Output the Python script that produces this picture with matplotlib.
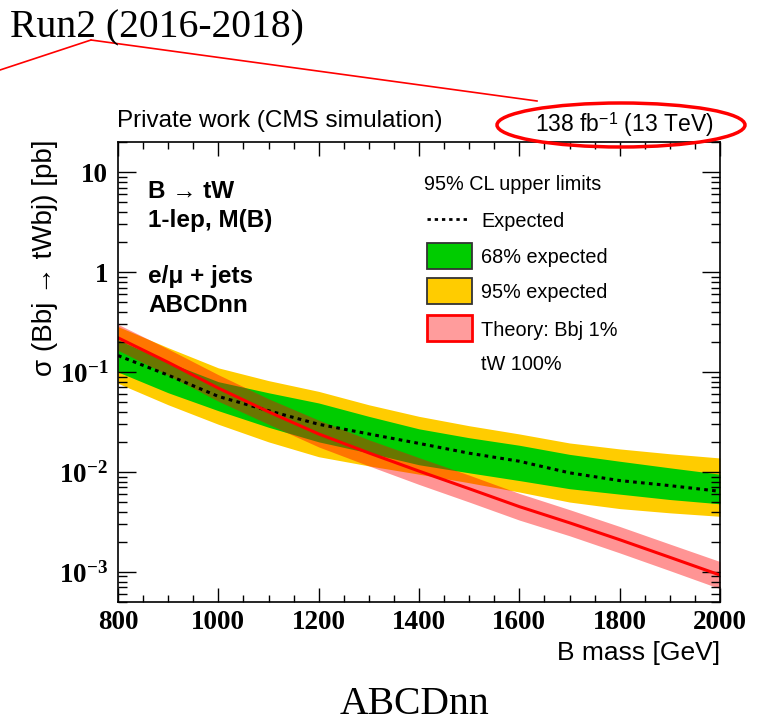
import numpy as np
import matplotlib
matplotlib.use("Agg")
import matplotlib.pyplot as plt
from matplotlib.patches import Rectangle, Ellipse
from matplotlib.lines import Line2D
from matplotlib.ticker import FixedLocator, LogLocator, NullFormatter

# B mass points [GeV]
mass = [800, 900, 1000, 1100, 1200, 1300, 1400, 1500, 1600, 1700, 1800, 1900, 2000]

# expected limit and bands [pb]
expected = [0.146, 0.093, 0.057, 0.041, 0.030, 0.024, 0.0193, 0.0154, 0.0128, 0.0098, 0.0082, 0.0073, 0.0064]
band68_lo = [0.100, 0.062, 0.041, 0.028, 0.020, 0.0155, 0.0118, 0.0098, 0.0082, 0.0068, 0.0060, 0.0053, 0.0048]
band68_hi = [0.210, 0.125, 0.080, 0.062, 0.049, 0.036, 0.027, 0.022, 0.0185, 0.0150, 0.0128, 0.0110, 0.0095]
band95_lo = [0.077, 0.047, 0.030, 0.020, 0.0142, 0.0115, 0.0095, 0.0078, 0.0063, 0.0050, 0.0043, 0.0039, 0.0036]
band95_hi = [0.285, 0.175, 0.110, 0.082, 0.064, 0.047, 0.036, 0.029, 0.024, 0.0195, 0.0170, 0.0152, 0.0138]

# theory cross section [pb]
theory = [0.22, 0.125, 0.069, 0.040, 0.024, 0.0155, 0.0102, 0.0068, 0.0045, 0.0031, 0.0021, 0.0014, 0.00093]
theory_lo = [0.165, 0.093, 0.051, 0.030, 0.0178, 0.0115, 0.0075, 0.0050, 0.0033, 0.0023, 0.00155, 0.00103, 0.00068]
theory_hi = [0.300, 0.170, 0.094, 0.054, 0.033, 0.021, 0.0139, 0.0093, 0.0061, 0.0042, 0.00285, 0.0019, 0.00127]

x_ticks = [800, 1000, 1200, 1400, 1600, 1800, 2000]
y_ticks = [1e-3, 1e-2, 1e-1, 1, 10]
y_tick_labels = [r"$10^{-3}$", r"$10^{-2}$", r"$10^{-1}$", "1", "10"]

plt.rcParams.update({
    "font.family": ["Liberation Sans", "DejaVu Sans"],
    "mathtext.fontset": "custom",
    "mathtext.rm": "Liberation Serif:bold",
    "mathtext.it": "Liberation Serif:bold",
    "mathtext.bf": "Liberation Serif:bold",
    "mathtext.sf": "Liberation Sans",
})

W, H = 767, 722
fig = plt.figure(figsize=(W / 100, H / 100), dpi=100)

def fx(px):
    return px / W

def fy(py):
    return 1 - py / H

ax = fig.add_axes([fx(118), fy(602), fx(720) - fx(118), fy(142) - fy(602)])

ax.fill_between(mass, band95_lo, band95_hi, color="#ffcc00", lw=0)
ax.fill_between(mass, band68_lo, band68_hi, color="#00cc00", lw=0)
ax.plot(mass, expected, color="black", lw=2.2, ls=(0, (1.2, 1.4)))
ax.fill_between(mass, theory_lo, theory_hi, color="red", alpha=0.42, lw=0)
ax.plot(mass, theory, color="red", lw=2.2)

ax.set_yscale("log")
ax.set_xlim(800, 2000)
ax.set_ylim(5e-4, 20)

ax.set_xticks(x_ticks)
ax.set_xticklabels([str(v) for v in x_ticks])
ax.xaxis.set_minor_locator(FixedLocator(np.arange(800, 2001, 50)))
ax.yaxis.set_major_locator(FixedLocator(y_ticks))
ax.set_yticklabels(y_tick_labels)
ax.yaxis.set_minor_locator(LogLocator(base=10, subs=np.arange(2, 10)))
ax.yaxis.set_minor_formatter(NullFormatter())

ax.tick_params(which="both", direction="in", top=True, right=True, width=1.0)
ax.tick_params(axis="x", which="major", length=10, pad=6)
ax.tick_params(axis="x", which="minor", length=5)
ax.tick_params(axis="y", which="major", length=13, pad=7)
ax.tick_params(axis="y", which="minor", length=6.5)
for lab in ax.get_xticklabels() + ax.get_yticklabels():
    lab.set_family("Liberation Serif")
    lab.set_weight("bold")
    lab.set_fontsize(19.5)
for sp in ax.spines.values():
    sp.set_linewidth(1.2)

# axis titles
fig.text(fx(720), fy(653), "B mass [GeV]", ha="right", va="center", fontsize=19)
fig.text(fx(45), fy(140), "σ (Bbj → tWbj) [pb]", rotation=90, ha="center", va="top", fontsize=20)

# labels inside the frame
for txt, py in [("B → tW", 191), ("1-lep, M(B)", 220), ("e/μ + jets", 277), ("ABCDnn", 306)]:
    fig.text(fx(148), fy(py), txt, ha="left", va="center", fontsize=17.5, weight="bold")

# legend
leg_fs = 14.3
fig.text(fx(424), fy(184), "95% CL upper limits", ha="left", va="center", fontsize=leg_fs)
fig.add_artist(Line2D([fx(427), fx(468)], [fy(219), fy(219)], color="black", lw=2, ls=(0, (1.2, 1.4))))
fig.text(fx(481), fy(221), "Expected", ha="left", va="center", fontsize=leg_fs)
for py, fc, ec, elw, label in [(256, "#00cc00", "#333333", 1.3, "68% expected"),
                               (291, "#ffcc00", "#333333", 1.3, "95% expected"),
                               (328, "#ff9c9c", "red", 2.0, "Theory: Bbj 1%")]:
    fig.add_artist(Rectangle((fx(427), fy(py + 13)), fx(472) - fx(427), fy(py - 13) - fy(py + 13),
                             facecolor=fc, edgecolor=ec, lw=elw))
    fig.text(fx(481), fy(py + 2), label, ha="left", va="center", fontsize=leg_fs)
fig.text(fx(481), fy(365), "tW 100%", ha="left", va="center", fontsize=leg_fs)

# header texts
fig.text(fx(117), fy(121), "Private work (CMS simulation)", ha="left", va="center", fontsize=17.5)
fig.text(fx(535), fy(125), r"138 fb$^{\mathsf{-1}}$ (13 TeV)", ha="left", va="center", fontsize=16.5)

# slide annotations
fig.text(fx(10), fy(28), "Run2 (2016-2018)", ha="left", va="center", fontsize=28.5, family="Liberation Serif")
fig.text(fx(415), fy(704), "ABCDnn", ha="center", va="center", fontsize=28.5, family="Liberation Serif")
fig.add_artist(Line2D([fx(0), fx(91)], [fy(70), fy(40)], color="red", lw=1.2))
fig.add_artist(Line2D([fx(91), fx(537)], [fy(40), fy(101)], color="red", lw=1.2))
fig.add_artist(Ellipse((fx(621), fy(125)), fx(248), 44 / H, facecolor="none", edgecolor="red", lw=2.5))

fig.savefig("out.png", dpi=100)
